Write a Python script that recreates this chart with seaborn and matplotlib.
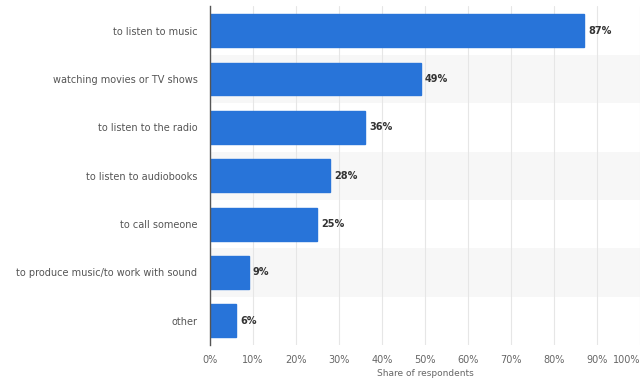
import matplotlib
matplotlib.use("Agg")
import matplotlib.pyplot as plt
import seaborn as sns
import pandas as pd

categories = ["to listen to music", "watching movies or TV shows", "to listen to the radio",
              "to listen to audiobooks", "to call someone", "to produce music/to work with sound", "other"]
values = [87, 49, 36, 28, 25, 9, 6]
xticks = [0, 10, 20, 30, 40, 50, 60, 70, 80, 90, 100]
xlabel = "Share of respondents"

df = pd.DataFrame({"cat": categories, "val": values})

sns.set_theme(style="white")
plt.rcParams['font.family'] = ['DejaVu Sans']

fig = plt.figure(figsize=(6.4, 3.8), dpi=100)
ax = fig.add_axes([0.328, 0.092, 0.672, 0.891])

for i in range(len(categories)):
    if i % 2 == 1:
        ax.axhspan(i - 0.5, i + 0.5, color="#f7f7f7", zorder=0, lw=0)

sns.barplot(data=df, x="val", y="cat", orient="h", color="#2874d9", saturation=1,
            width=0.68, ax=ax, zorder=3, edgecolor="#2874d9")

ax.set_xlim(0, 100)
ax.set_ylim(len(categories) - 0.5, -0.5)
ax.set_xticks(xticks)
ax.set_xticklabels([f"{t}%" for t in xticks])
labs = ax.get_xticklabels()
labs[-1].set_ha("right")
ax.tick_params(axis="x", labelsize=7, colors="#666666", length=0, pad=7)
ax.tick_params(axis="y", labelsize=7, colors="#555555", length=0, pad=9)
ax.grid(axis="x", color="#e6e6e6", lw=0.8, zorder=1)
ax.set_axisbelow(True)
ax.set_ylabel("")
ax.set_xlabel(xlabel, fontsize=6.5, color="#666666", labelpad=3)

for s in ["top", "right", "bottom"]:
    ax.spines[s].set_visible(False)
ax.spines["left"].set_color("#555555")
ax.spines["left"].set_linewidth(1.0)
ax.spines["left"].set_zorder(5)

for i, v in enumerate(values):
    ax.text(v + 1.0, i, f"{v}%", va="center", ha="left", fontsize=7, fontweight="bold",
            color="#333333", zorder=6)

fig.savefig("out.png", dpi=100)
